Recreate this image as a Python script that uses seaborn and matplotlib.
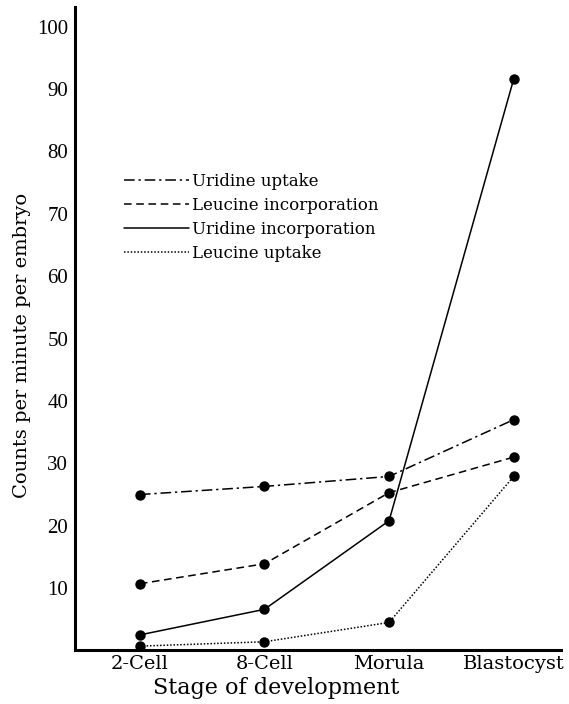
import matplotlib
matplotlib.use("Agg")
import matplotlib.pyplot as plt
import numpy as np
import pandas as pd
import seaborn as sns
from matplotlib.lines import Line2D

stages = ["2-Cell", "8-Cell", "Morula", "Blastocyst"]
uridine_uptake = [25.0, 26.3, 27.9, 37.0]
leucine_incorporation = [10.7, 13.9, 25.3, 31.0]
uridine_incorporation = [2.5, 6.6, 20.8, 91.6]
leucine_uptake = [0.7, 1.4, 4.5, 27.9]
series_names = ["Uridine uptake", "Leucine incorporation",
                "Uridine incorporation", "Leucine uptake"]
y_ticks = [10, 20, 30, 40, 50, 60, 70, 80, 90, 100]

dash_styles = {
    "Uridine uptake": (7, 2.5, 1.5, 2.5),
    "Leucine incorporation": (5, 3),
    "Uridine incorporation": "",
    "Leucine uptake": (1, 1.2),
}

df = pd.DataFrame({
    "stage": stages * 4,
    "value": uridine_uptake + leucine_incorporation + uridine_incorporation + leucine_uptake,
    "series": np.repeat(series_names, len(stages)),
})
df["x"] = df["stage"].map({s: i for i, s in enumerate(stages)})

sns.set_style("white")
plt.rcParams["font.family"] = ["DejaVu Serif"]
plt.rcParams.update({"text.color": "black", "axes.labelcolor": "black",
                     "xtick.color": "black", "ytick.color": "black"})

fig = plt.figure(figsize=(5.69, 7.04), dpi=100)
ax = fig.add_axes([0.132, 0.076, 0.854, 0.9145])

sns.lineplot(data=df, x="x", y="value", style="series", dashes=dash_styles,
             markers={n: "o" for n in series_names}, color="black", linewidth=1.1,
             markersize=7.5, markeredgewidth=0, sort=False, legend=False, ax=ax)

ax.set_xlim(-0.52, 3.38)
ax.set_ylim(0, 103.2)
ax.set_xticks(range(len(stages)))
ax.set_xticklabels(stages, fontsize=14)
ax.set_yticks(y_ticks)
ax.set_yticklabels([str(v) for v in y_ticks], fontsize=15, family="Liberation Serif")
ax.tick_params(axis="y", direction="in", length=7, width=2, pad=5, color="black")
ax.tick_params(axis="x", direction="in", length=5, width=1.2, pad=3, color="black")
for side in ["top", "right"]:
    ax.spines[side].set_visible(False)
for side in ["left", "bottom"]:
    ax.spines[side].set_linewidth(2.2)
    ax.spines[side].set_color("black")

ax.set_xlabel("Stage of development", fontsize=16)
ax.set_ylabel("Counts per minute per embryo", fontsize=14)
ax.xaxis.set_label_coords(0.414, -0.041)
ax.yaxis.set_label_coords(-0.0905, 0.4745)

handles = [Line2D([], [], color="black", linewidth=1.1,
                  linestyle=(0, dash_styles[n]) if dash_styles[n] else "-")
           for n in series_names]
ax.legend(handles, series_names, loc="upper left", bbox_to_anchor=(0.1, 0.742),
          frameon=False, fontsize=12, handlelength=3.9, handletextpad=0.2,
          labelspacing=0.42, borderaxespad=0, borderpad=0)

fig.savefig("out.png", dpi=100)
